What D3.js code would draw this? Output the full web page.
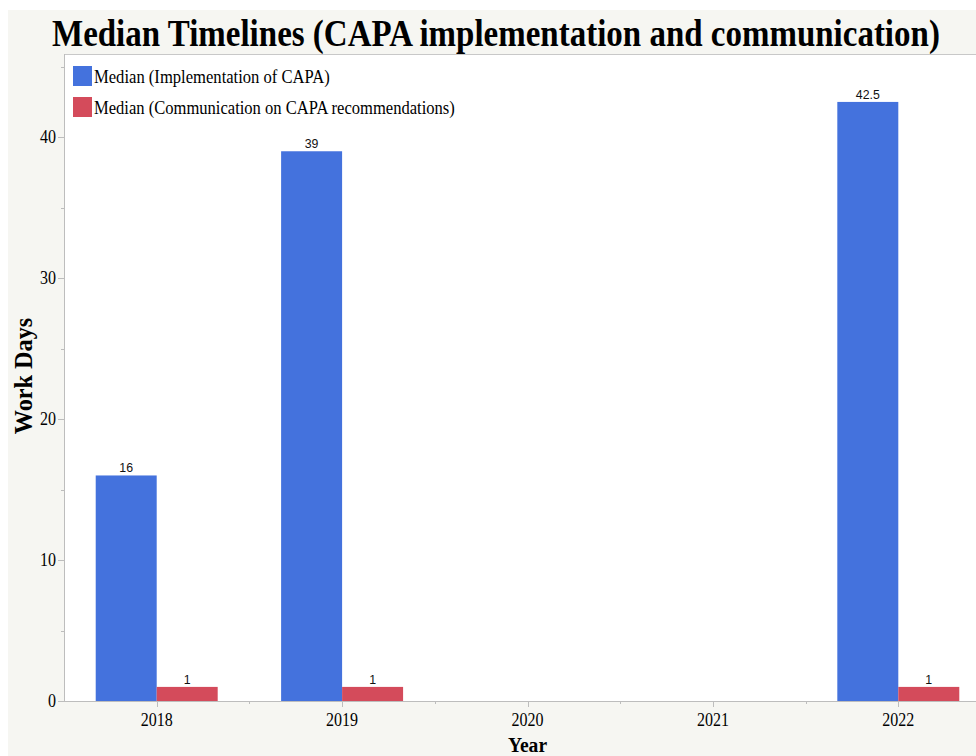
<!DOCTYPE html>
<html><head><meta charset="utf-8">
<script src="https://cdn.jsdelivr.net/npm/d3@7"></script>
<style>body{margin:0;background:#fff;}svg{display:block;}</style>
</head><body>
<svg id="chart" width="976" height="756"></svg>
<script>
const years = ["2018","2019","2020","2021","2022"];
const seriesNames = ["Median (Implementation of CAPA)","Median (Communication on CAPA recommendations)"];
const implementation = [16, 39, null, null, 42.5];
const communication = [1, 1, null, null, 1];
const yTicks = [0,10,20,30,40];
const colors = ["#4472dd","#d44b5b"];

const svg = d3.select("#chart");
const W = 976, H = 756;
const m = {left:64, top:54, right:991, bottom:701};
const serif = "'Liberation Serif','Times New Roman',serif";
const sans = "'Liberation Sans',Arial,sans-serif";
const sx = 0.89;

svg.append("rect").attr("x",8).attr("y",10).attr("width",W-8).attr("height",H-10).attr("fill","#f6f6f2");
svg.append("rect").attr("x",m.left).attr("y",m.top).attr("width",m.right-m.left).attr("height",m.bottom-m.top).attr("fill","#fff");

const x = d3.scaleBand().domain(years).range([m.left,m.right]).padding(0);
const x1 = d3.scaleBand().domain(d3.range(2)).range([0,x.bandwidth()]).paddingInner(0).paddingOuter(0.52);
const y = d3.scaleLinear().domain([0,45.9]).range([m.bottom,m.top]);

function stext(g, tx, ty, str, opts){
  const t = g.append("text").attr("transform",`translate(${tx},${ty}) scale(${opts.sx||sx},1)`)
    .attr("font-family",opts.ff||serif).attr("font-size",opts.fs).attr("font-weight",opts.fw||"normal")
    .attr("text-anchor",opts.anchor||"middle").attr("fill",opts.fill||"#000").text(str);
  return t;
}
function fitText(g, tx, ty, str, fs, fw, width){
  const t = g.append("text").attr("font-family",serif).attr("font-size",fs).attr("font-weight",fw).text(str);
  const w = t.node().getComputedTextLength();
  t.attr("transform",`translate(${tx},${ty}) scale(${width/w},1)`);
  return t;
}

// plot border top
svg.append("line").attr("x1",m.left).attr("x2",m.right).attr("y1",m.top+0.5).attr("y2",m.top+0.5).attr("stroke","#c8c8c8");

// bars
const data = [implementation, communication];
data.forEach((vals,si)=>{
  years.forEach((yr,i)=>{
    const v = vals[i];
    if(v==null) return;
    const bx = x(yr)+x1(si);
    svg.append("rect").attr("x",bx).attr("y",y(v)).attr("width",x1.bandwidth()).attr("height",y(0)-y(v)).attr("fill",colors[si]);
    stext(svg, bx+x1.bandwidth()/2, y(v)-3, d3.format("~g")(v), {ff:sans, fs:13, fill:"#111", sx:0.95});
  });
});

// y axis
const ya = svg.append("g");
ya.append("line").attr("x1",m.left+0.5).attr("x2",m.left+0.5).attr("y1",m.top).attr("y2",m.bottom).attr("stroke","#bdbdbd");
d3.range(0,46,5).forEach(v=>{
  const major = v%10===0;
  ya.append("line").attr("x1",m.left-(major?6:3)).attr("x2",m.left).attr("y1",Math.round(y(v))+0.5).attr("y2",Math.round(y(v))+0.5).attr("stroke","#bdbdbd");
});
yTicks.forEach(v=>{
  stext(ya, 56, y(v)+6, String(v), {fs:18, anchor:"end"});
});

// x axis
const xa = svg.append("g");
xa.append("line").attr("x1",m.left).attr("x2",m.right).attr("y1",m.bottom+0.5).attr("y2",m.bottom+0.5).attr("stroke","#bdbdbd");
years.forEach(yr=>{
  const cx = x(yr)+x.bandwidth()/2;
  xa.append("line").attr("x1",Math.round(cx)+0.5).attr("x2",Math.round(cx)+0.5).attr("y1",m.bottom).attr("y2",m.bottom+6).attr("stroke","#bdbdbd");
  xa.append("line").attr("x1",Math.round(x(yr)+x.bandwidth())+0.5).attr("x2",Math.round(x(yr)+x.bandwidth())+0.5).attr("y1",m.bottom).attr("y2",m.bottom+3).attr("stroke","#bdbdbd");
  stext(xa, cx, 726, yr, {fs:18});
});

// axis titles
stext(svg, (m.left+m.right)/2, 752, "Year", {fs:22, fw:"bold"});
svg.append("text").attr("transform","translate(32,376) rotate(-90) scale(0.97,1)")
  .attr("font-family",serif).attr("font-size",25).attr("font-weight","bold").attr("text-anchor","middle").text("Work Days");

// title
fitText(svg, 52, 46, "Median Timelines (CAPA implementation and communication)", 38, "bold", 888);

// legend
const legW = [236, 361];
seriesNames.forEach((s,i)=>{
  const ly = 66 + i*31;
  svg.append("rect").attr("x",73).attr("y",ly).attr("width",19).attr("height",20).attr("fill",colors[i]);
  fitText(svg, 94, ly+17, s, 19, "normal", legW[i]);
});
</script>
</body></html>
